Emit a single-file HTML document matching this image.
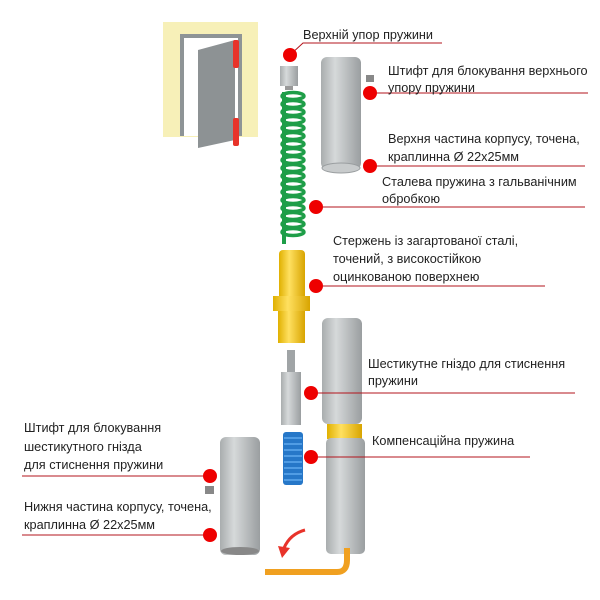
<!DOCTYPE html>
<html><head><meta charset="utf-8"><style>
html,body{margin:0;padding:0;background:#fff;width:600px;height:600px;overflow:hidden}
text{font-family:"Liberation Sans",sans-serif;font-size:12.7px;fill:#222}
</style></head><body>
<svg width="600" height="600" viewBox="0 0 600 600" xmlns="http://www.w3.org/2000/svg">
<defs>
<linearGradient id="g" x1="0" x2="1"><stop offset="0" stop-color="#a9adae"/><stop offset="0.35" stop-color="#d6d9da"/><stop offset="1" stop-color="#9a9ea0"/></linearGradient>
<linearGradient id="y" x1="0" x2="1"><stop offset="0" stop-color="#e0b000"/><stop offset="0.4" stop-color="#ffe060"/><stop offset="1" stop-color="#d8a400"/></linearGradient>
</defs>
<!-- door -->
<rect x="163" y="22" width="95" height="115" fill="#f7f0b8"/>
<rect x="180" y="34" width="62" height="102" fill="#8e9496"/>
<rect x="184" y="38" width="54" height="98" fill="#fff"/>
<polygon points="198,50 235,40 235,140 198,148" fill="#8d9294"/>
<rect x="233" y="40" width="6" height="28" rx="2" fill="#e8332a"/>
<rect x="233" y="118" width="6" height="28" rx="2" fill="#e8332a"/>
<!-- top stop -->
<rect x="280" y="66" width="18" height="20" fill="url(#g)"/>
<rect x="285" y="86" width="8" height="4" fill="#999"/>
<!-- green spring -->
<rect x="282" y="92" width="4" height="152" fill="#1e9e48"/>
<g stroke="#1e9e48" stroke-width="3.5" fill="none">
<ellipse cx="293" cy="96" rx="11" ry="3.5"/><ellipse cx="293" cy="104" rx="11" ry="3.5"/><ellipse cx="293" cy="112" rx="11" ry="3.5"/><ellipse cx="293" cy="120" rx="11" ry="3.5"/><ellipse cx="293" cy="128" rx="11" ry="3.5"/><ellipse cx="293" cy="136" rx="11" ry="3.5"/><ellipse cx="293" cy="144" rx="11" ry="3.5"/><ellipse cx="293" cy="152" rx="11" ry="3.5"/><ellipse cx="293" cy="160" rx="11" ry="3.5"/><ellipse cx="293" cy="168" rx="11" ry="3.5"/><ellipse cx="293" cy="176" rx="11" ry="3.5"/><ellipse cx="293" cy="184" rx="11" ry="3.5"/><ellipse cx="293" cy="192" rx="11" ry="3.5"/><ellipse cx="293" cy="200" rx="11" ry="3.5"/><ellipse cx="293" cy="208" rx="11" ry="3.5"/><ellipse cx="293" cy="216" rx="11" ry="3.5"/><ellipse cx="293" cy="224" rx="11" ry="3.5"/><ellipse cx="293" cy="232" rx="11" ry="3.5"/>
</g>
<!-- upper body -->
<rect x="321" y="57" width="40" height="112" rx="6" fill="url(#g)"/>
<ellipse cx="341" cy="168" rx="19" ry="5" fill="#c8cbcc" stroke="#9a9ea0"/>
<rect x="366" y="75" width="8" height="7" fill="#888"/>
<!-- yellow rod -->
<rect x="279" y="250" width="26" height="50" rx="4" fill="url(#y)"/>
<rect x="273" y="296" width="37" height="15" fill="url(#y)"/>
<rect x="278" y="311" width="27" height="32" fill="url(#y)"/>
<!-- hex -->
<rect x="287" y="350" width="8" height="24" fill="#a0a4a6"/>
<rect x="281" y="372" width="20" height="53" fill="url(#g)"/>
<!-- blue spring -->
<rect x="283" y="432" width="20" height="53" rx="3" fill="#2677c8"/>
<g stroke="#5fa8ee" stroke-width="1.5"><path d="M284,438h18M284,444h18M284,450h18M284,456h18M284,462h18M284,468h18M284,474h18M284,480h18"/></g>
<!-- right lower body -->
<rect x="322" y="318" width="40" height="106" rx="6" fill="url(#g)"/>
<rect x="327" y="424" width="35" height="15" fill="url(#y)"/>
<rect x="326" y="438" width="39" height="116" rx="5" fill="url(#g)"/>
<!-- left lower body -->
<rect x="220" y="437" width="40" height="118" rx="6" fill="url(#g)"/>
<ellipse cx="240" cy="551" rx="19" ry="4" fill="#888"/>
<rect x="205" y="486" width="9" height="8" fill="#888"/>
<!-- wrench -->
<path d="M265,572 H337 Q347,572 347,560 V548" stroke="#f0a020" stroke-width="6" fill="none"/>
<!-- arrow -->
<path d="M305,530 Q290,534 284,548" stroke="#e8332a" stroke-width="3" fill="none"/>
<polygon points="278,546 290,548 282,558" fill="#e8332a"/>
<!-- lines -->
<g stroke="#b3141c" stroke-width="1" fill="none">
<path d="M290,55 L303,43 H442"/>
<path d="M370,93 H588"/>
<path d="M370,166 H585"/>
<path d="M316,207 H585"/>
<path d="M316,286 H545"/>
<path d="M311,393 H575"/>
<path d="M311,457 H530"/>
<path d="M22,476 H210"/>
<path d="M22,535 H210"/>
</g>
<g fill="#e00">
<circle cx="290" cy="55" r="7"/><circle cx="370" cy="93" r="7"/><circle cx="370" cy="166" r="7"/>
<circle cx="316" cy="207" r="7"/><circle cx="316" cy="286" r="7"/><circle cx="311" cy="393" r="7"/>
<circle cx="311" cy="457" r="7"/><circle cx="210" cy="476" r="7"/><circle cx="210" cy="535" r="7"/>
</g>
<text x="303" y="39">Верхній упор пружини</text>
<text x="388" y="75">Штифт для блокування верхнього</text>
<text x="388" y="92">упору пружини</text>
<text x="388" y="143">Верхня частина корпусу, точена,</text>
<text x="388" y="161">краплинна Ø 22x25мм</text>
<text x="382" y="186">Сталева пружина з гальванічним</text>
<text x="382" y="203">обробкою</text>
<text x="333" y="245">Стержень із загартованої сталі,</text>
<text x="333" y="263">точений, з високостійкою</text>
<text x="333" y="281">оцинкованою поверхнею</text>
<text x="368" y="368">Шестикутне гніздо для стиснення</text>
<text x="368" y="385">пружини</text>
<text x="372" y="445">Компенсаційна пружина</text>
<text x="24" y="432">Штифт для блокування</text>
<text x="24" y="451">шестикутного гнізда</text>
<text x="24" y="469">для стиснення пружини</text>
<text x="24" y="511">Нижня частина корпусу, точена,</text>
<text x="24" y="529">краплинна Ø 22x25мм</text>
</svg>
</body></html>
